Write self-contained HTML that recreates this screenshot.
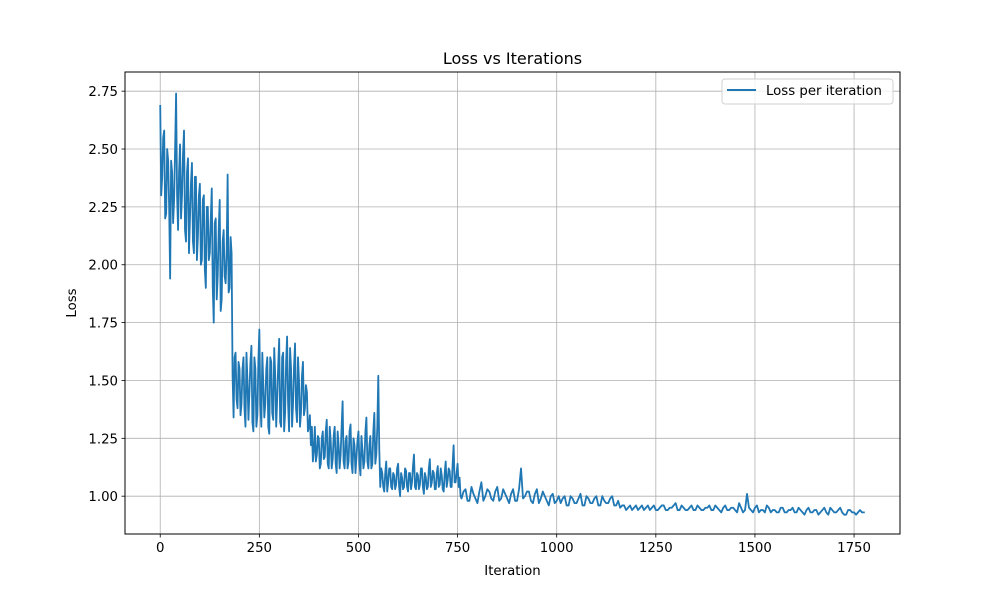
<!DOCTYPE html>
<html><head><meta charset="utf-8"><style>
html,body{margin:0;padding:0;background:#fff;}
svg{display:block;font-family:"DejaVu Sans","Liberation Sans",sans-serif;}
</style></head><body>
<svg id="chart" width="1000" height="600" viewBox="0 0 1000 600">
<rect x="0" y="0" width="1000" height="600" fill="#fff"/>
<g id="grid"></g>
<g id="series"></g>
<rect x="125" y="72" width="775" height="462" fill="none" stroke="#000" stroke-width="1"/>
<g id="ticks"></g>
<text x="512.5" y="64" text-anchor="middle" font-size="16" fill="#000">Loss vs Iterations</text>
<text x="512.5" y="575" text-anchor="middle" font-size="13.3" fill="#000">Iteration</text>
<text transform="translate(76,303) rotate(-90)" text-anchor="middle" font-size="13.3" fill="#000">Loss</text>
<g>
<rect x="722" y="79" width="171" height="25" rx="3" fill="#fff" fill-opacity="0.8" stroke="#d0d0d0"/>
<line x1="727" y1="90" x2="756" y2="90" stroke="#1f77b4" stroke-width="2"/>
<text x="766" y="95" font-size="13.3" fill="#000">Loss per iteration</text>
</g>
</svg>
<script>
const xTicks = [0,250,500,750,1000,1250,1500,1750];
const yTicks = [1.00,1.25,1.50,1.75,2.00,2.25,2.50,2.75];
// samples every 5 iterations starting at 0
const lossEarly = [2.69,2.38,2.58,2.22,2.45,1.94,2.40,2.28,2.74,2.15,2.52,2.30,2.58,2.10,2.46,2.20,2.44,2.05,2.38,2.12,2.35,2.02,2.30,1.90,2.25,2.05,2.33,1.75,2.20,1.95,2.28,1.85,2.15,1.92,2.39,1.90,
2.05,1.34,1.62,1.38,1.55,1.40,1.60,1.30,1.50,1.45,1.65,1.28,1.55,1.35,1.72,1.30,1.48,1.40,1.60,1.27,1.58,1.33,1.52,1.42,1.68,1.30,1.62,1.36,1.69,1.28,1.55,1.40,1.66,1.32,1.50,1.36,1.58,1.38,1.45,1.30,
1.22,1.15,1.30,1.18,1.25,1.14,1.28,1.17,1.33,1.12,1.24,1.16,1.30,1.10,1.22,1.18,1.41,1.12,1.26,1.15,1.31,1.10,1.22,1.17,1.28,1.09,1.20,1.15,1.34,1.12,1.26,1.14,1.36,1.18,1.52,
1.04,1.10,1.02,1.15,1.06,1.12,1.03,1.09,1.05,1.14,1.00,1.08,1.04,1.11,1.02,1.10,1.06,1.18,1.03,1.09,1.05,1.12,1.01,1.08,1.04,1.16,1.06,1.10,1.03,1.13,1.05,1.09,1.02,1.15,1.07,1.11,1.04,1.22,1.06,1.14,1.08];
// in-between samples, 2.5 iterations after each early sample
const lossEarlyMid = [2.30,2.55,2.20,2.50,2.25,2.45,2.18,2.50,2.30,2.40,2.20,2.48,2.15,2.40,2.05,2.35,2.10,2.38,2.02,2.30,2.00,2.28,1.98,2.25,2.02,2.20,1.90,2.18,1.85,2.15,1.80,2.10,1.95,2.05,1.88,2.12,
1.52,1.60,1.42,1.58,1.35,1.55,1.38,1.62,1.33,1.58,1.32,1.60,1.30,1.58,1.40,1.62,1.34,1.55,1.30,1.60,1.36,1.64,1.30,1.56,1.32,1.60,1.28,1.58,1.40,1.64,1.30,1.56,1.38,1.60,1.30,1.52,1.35,1.48,1.28,1.35,
1.30,1.20,1.15,1.26,1.12,1.25,1.16,1.28,1.14,1.30,1.12,1.26,1.14,1.28,1.12,1.30,1.15,1.24,1.12,1.28,1.14,1.25,1.10,1.24,1.14,1.26,1.12,1.28,1.15,1.22,1.12,1.28,1.14,1.30,1.20,
1.12,1.04,1.10,1.02,1.12,1.04,1.10,1.03,1.12,1.04,1.10,1.03,1.12,1.04,1.10,1.03,1.13,1.04,1.10,1.03,1.12,1.04,1.10,1.03,1.12,1.04,1.11,1.03,1.10,1.04,1.12,1.03,1.10,1.04,1.12,1.04,1.14,1.06,1.10,1.04,1.00];
// samples every 10 iterations starting at 760
const lossLate = [0.99,1.03,0.98,1.01,0.97,1.06,1.00,1.02,0.98,1.04,0.99,1.01,0.97,1.03,0.98,1.12,1.00,1.02,0.97,1.03,0.99,1.00,0.96,1.01,0.98,
0.97,1.00,0.96,0.99,0.97,1.01,0.96,0.99,0.97,1.00,0.96,0.98,0.97,1.00,0.96,
0.95,0.96,0.95,0.94,0.96,0.95,0.94,0.96,0.95,0.94,0.95,0.96,0.94,0.95,0.97,0.94,0.95,0.94,0.96,0.94,0.95,0.94,0.95,0.94,0.96,0.94,0.95,0.94,0.95,0.94,0.97,0.93,1.01,0.94,0.95,0.93,0.94,0.96,0.93,0.94,0.93,0.95,0.93,0.94,0.93,0.95,0.93,0.94,0.93,0.94,0.92,0.94,0.93,0.95,0.93,0.94,0.93,0.92,0.94,0.93,0.93,0.93];
// in-between samples, 5 iterations after each late sample
const lossLateMid = [1.02,0.98,1.04,0.99,1.02,0.98,1.03,0.99,1.02,0.98,1.03,0.99,1.01,0.98,1.03,0.99,1.02,0.98,1.01,0.97,1.02,0.98,1.00,0.97,1.00,
0.99,0.96,1.00,0.97,0.99,0.96,1.00,0.97,0.99,0.96,1.00,0.97,0.99,0.96,0.98,
0.96,0.94,0.96,0.95,0.94,0.96,0.95,0.94,0.96,0.94,0.96,0.94,0.95,0.96,0.94,0.96,0.94,0.95,0.94,0.96,0.94,0.95,0.96,0.94,0.95,0.93,0.96,0.94,0.95,0.93,0.95,0.94,0.95,0.93,0.96,0.94,0.93,0.95,0.94,0.93,0.95,0.93,0.94,0.95,0.93,0.94,0.92,0.95,0.93,0.94,0.93,0.95,0.92,0.94,0.93,0.95,0.92,0.94,0.93,0.92,0.94,0.93];
const lastIter = 1777, lastLoss = 0.93;

const NS = "http://www.w3.org/2000/svg";
const X0 = 125, X1 = 900, Y0 = 72, Y1 = 534;
const xMin = -88.85, xMax = 1865.85, yMin = 0.8366, yMax = 2.8328;
const sx = v => X0 + (v - xMin) / (xMax - xMin) * (X1 - X0);
const sy = v => Y1 - (v - yMin) / (yMax - yMin) * (Y1 - Y0);
function mk(tag, attrs, parent){const e=document.createElementNS(NS,tag);for(const k in attrs)e.setAttribute(k,attrs[k]);parent.appendChild(e);return e;}
const grid=document.getElementById('grid'), ticks=document.getElementById('ticks'), series=document.getElementById('series');
xTicks.forEach(t=>{
  const x=sx(t);
  const g=mk('line',{x1:x,x2:x,y1:Y0,y2:Y1,stroke:'#b0b0b0','stroke-width':0.8},grid);
  
  
  const tk=mk('line',{x1:x,x2:x,y1:Y1,y2:Y1+3.5,stroke:'#000','stroke-width':0.8},ticks);
  
  
  const lb=mk('text',{x:x,y:Y1+18,'text-anchor':'middle','font-size':13.3,fill:'#000'},ticks);
  lb.textContent=String(t);
  
  
});
yTicks.forEach(t=>{
  const y=sy(t);
  const g=mk('line',{x1:X0,x2:X1,y1:y,y2:y,stroke:'#b0b0b0','stroke-width':0.8},grid);
  
  
  const tk=mk('line',{x1:X0-3.5,x2:X0,y1:y,y2:y,stroke:'#000','stroke-width':0.8},ticks);
  
  
  const lb=mk('text',{x:X0-7,y:y+5,'text-anchor':'end','font-size':13.3,fill:'#000'},ticks);
  lb.textContent=t.toFixed(2);
  
  
});
const pts=[];
lossEarly.forEach((v,i)=>pts.push([i*5,v]));
lossEarlyMid.forEach((v,i)=>pts.push([i*5+2.5,v]));
lossLate.forEach((v,i)=>pts.push([760+i*10,v]));
lossLateMid.forEach((v,i)=>pts.push([765+i*10,v]));
pts.push([lastIter,lastLoss]);
pts.sort((a,b)=>a[0]-b[0]);
const d=pts.map((p,i)=>(i?'L':'M')+sx(p[0]).toFixed(2)+','+sy(p[1]).toFixed(2)).join('');
const path=mk('path',{d:d,fill:'none',stroke:'#1f77b4','stroke-width':1.8,'stroke-linejoin':'round'},series);


</script>
</body></html>
